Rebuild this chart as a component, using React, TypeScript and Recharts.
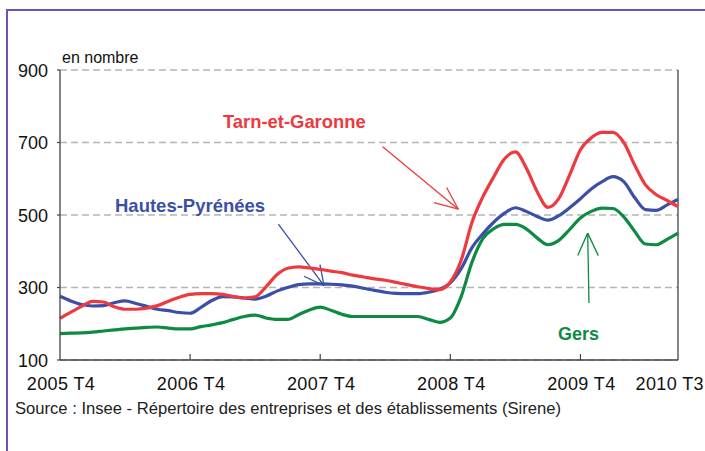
import React from 'react';
import { LineChart, Line, XAxis, YAxis, CartesianGrid, ReferenceLine } from 'recharts';

// Monthly positions, from 2005 T4 (0) to 2010 T3 (57)
const tarnEtGaronne = [
  215, 232, 248, 262, 260, 247, 240, 240, 243, 250,
  262, 273, 281, 283, 283, 281, 275, 271, 274, 302,
  335, 353, 357, 354, 350, 345, 341, 334, 329, 324,
  320, 314, 308, 302, 297, 294, 315, 375, 480, 550,
  605, 655, 674, 630, 565, 521, 545, 610, 680, 713,
  728, 728, 700, 638, 583, 556, 540, 523,
];
const hautesPyrenees = [
  276, 263, 253, 249, 250, 258, 263, 256, 248, 240,
  236, 231, 229, 245, 264, 275, 274, 271, 268, 276,
  290, 300, 308, 310, 310, 309, 307, 304, 298, 292,
  287, 284, 283, 283, 287, 295, 313, 352, 410, 448,
  480, 505, 520, 510, 496, 486, 498, 520, 545, 572,
  592, 606, 592, 548, 515, 513, 528, 543,
];
const gers = [
  173, 174, 175, 177, 180, 183, 186, 188, 190, 191,
  188, 186, 186, 192, 197, 203, 212, 220, 224, 216,
  212, 212, 225, 238, 246, 237, 226, 220, 220, 220,
  220, 220, 220, 220, 212, 204, 216, 275, 370, 435,
  462, 474, 474, 462, 437, 418, 430, 460, 492, 510,
  519, 518, 495, 455, 420, 418, 433, 450,
];

const tickMonths = [0, 12, 24, 36, 48, 57];
const tickLabels = ['2005 T4', '2006 T4', '2007 T4', '2008 T4', '2009 T4', '2010 T3'];
const yTicks = [100, 300, 500, 700, 900];

const seriesNames = ['Tarn-et-Garonne', 'Hautes-Pyrénées', 'Gers'];
const unitLabel = 'en nombre';
const sourceText = 'Source : Insee - Répertoire des entreprises et des établissements (Sirene)';

// Annotation arrows in data coordinates (month index, value)
const redArrow = { from: [29.76, 688], to: [36.74, 516], h1: [35.66, 576], h2: [34.5, 534] };
const blueArrow = { from: [20.14, 475], to: [24.35, 305], h1: [23.98, 363], h2: [22.5, 331] };
const greenArrow = { from: [48.79, 257], to: [48.67, 450], h1: [47.75, 388], h2: [49.65, 388] };

const RED = '#ee3a3f';
const BLUE = '#3c4fa6';
const GREEN = '#0c8b41';
const FONT = '"Liberation Sans", Arial, Helvetica, sans-serif';

const data = tarnEtGaronne.map((v, i) => ({
  m: i,
  tg: v,
  hp: hautesPyrenees[i],
  ge: gers[i],
}));

const XTick = (props: any) => {
  const { x, y, payload } = props;
  const idx = tickMonths.indexOf(payload.value);
  const label = tickLabels[idx] ?? '';
  const last = idx === tickMonths.length - 1;
  return (
    <g>
      {!last && idx !== 0 && (
        <line x1={x} y1={y} x2={x} y2={y - 6} stroke="#444" strokeWidth={1.2} />
      )}
      <text
        x={last ? x + 26 : x + 1}
        y={y + 30}
        textAnchor={last ? 'end' : 'middle'}
        fontFamily={FONT}
        fontSize={18}
        letterSpacing={0.4}
        fill="#111"
      >
        {label}
      </text>
    </g>
  );
};

const YTick = (props: any) => {
  const { x, y, payload } = props;
  return (
    <text x={x} y={y + 6.6} textAnchor="end" fontFamily={FONT} fontSize={18} fill="#111">
      {payload.value}
    </text>
  );
};

function arrowLines(a: any, color: string, key: string) {
  const seg = (p: number[], q: number[], k: string) => (
    <ReferenceLine
      key={key + k}
      segment={[{ x: p[0], y: p[1] }, { x: q[0], y: q[1] }]}
      stroke={color}
      strokeWidth={1.3}
      ifOverflow="visible"
    />
  );
  return [seg(a.from, a.to, 'l'), seg(a.h1, a.to, 'a'), seg(a.h2, a.to, 'b')];
}

export default function App() {
  return (
    <div style={{ position: 'absolute', left: 0, top: 0, width: 705, height: 451, background: '#fff', overflow: 'hidden' }}>
      <div
        style={{
          position: 'absolute',
          left: 6,
          top: 9,
          width: 720,
          height: 460,
          borderLeft: '2px solid #7050b8',
          borderTop: '2px solid #7050b8',
        }}
      />
      <div style={{ position: 'absolute', left: 0, top: 0 }}>
        <LineChart width={705} height={451} data={data} margin={{ top: 70, right: 27, bottom: 61, left: 10 }}>
          <CartesianGrid horizontal vertical={false} stroke="#b5b5b5" strokeDasharray="7 4" strokeWidth={1.3} />
          <XAxis
            dataKey="m"
            type="number"
            domain={[0, 57]}
            ticks={tickMonths}
            height={30}
            tickSize={0}
            tickMargin={0}
            tickLine={false}
            axisLine={{ stroke: '#444', strokeWidth: 1.3 }}
            tick={<XTick />}
            interval={0}
          />
          <YAxis
            type="number"
            domain={[100, 900]}
            ticks={yTicks}
            width={50}
            tickSize={3}
            tickMargin={9}
            tickLine={{ stroke: '#444', strokeWidth: 1.2 }}
            axisLine={{ stroke: '#444', strokeWidth: 1.3 }}
            tick={<YTick />}
            interval={0}
          />
          <ReferenceLine x={57} stroke="#444" strokeWidth={1.3} />
          {arrowLines(redArrow, RED, 'r')}
          {arrowLines(blueArrow, BLUE, 'b')}
          {arrowLines(greenArrow, GREEN, 'g')}
          <Line type="monotone" dataKey="ge" name={seriesNames[2]} stroke={GREEN} strokeWidth={3.2} dot={false} isAnimationActive={false} />
          <Line type="monotone" dataKey="hp" name={seriesNames[1]} stroke={BLUE} strokeWidth={3.2} dot={false} isAnimationActive={false} />
          <Line type="monotone" dataKey="tg" name={seriesNames[0]} stroke={RED} strokeWidth={3.2} dot={false} isAnimationActive={false} />
        </LineChart>
      </div>
      <svg width={705} height={451} style={{ position: 'absolute', left: 0, top: 0, pointerEvents: 'none' }}>
        <text x={62} y={62.5} fontFamily={FONT} fontSize={16} fill="#111">{unitLabel}</text>
        <text x={223} y={128} fontFamily={FONT} fontSize={18.4} fontWeight="bold" fill={RED}>{seriesNames[0]}</text>
        <text x={115} y={211.5} fontFamily={FONT} fontSize={18.5} fontWeight="bold" fill={BLUE}>{seriesNames[1]}</text>
        <text x={558} y={340} fontFamily={FONT} fontSize={18} fontWeight="bold" fill={GREEN}>{seriesNames[2]}</text>
        <text x={15} y={414} fontFamily={FONT} fontSize={16.6} fill="#222">{sourceText}</text>
      </svg>
    </div>
  );
}
